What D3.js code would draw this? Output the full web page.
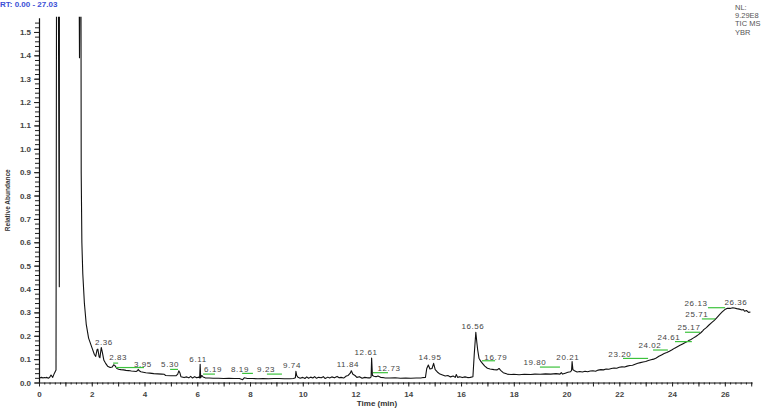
<!DOCTYPE html>
<html>
<head>
<meta charset="utf-8">
<script src="https://cdn.jsdelivr.net/npm/d3@7"></script>
<style>
  body { margin: 0; background: #fff; }
  text { font-family: "Liberation Sans", Arial, sans-serif; }
</style>
</head>
<body>
<div id="chart-area"></div>
<script>
// chromatogram: retention time (min) and relative abundance
const rt = [
  0.00, 0.05, 0.10, 0.15, 0.20, 0.25, 0.30, 0.35, 0.40, 0.455, 0.52, 0.58, 0.645,
  0.67, 0.72, 0.77, 0.775, 1.50, 1.535, 1.57, 1.585, 1.60, 1.625, 1.66, 1.72, 1.79, 1.88,
  2.01, 2.10, 2.15, 2.20, 2.23, 2.28, 2.31, 2.36, 2.40, 2.46, 2.52, 2.60, 2.70, 2.78,
  2.83, 2.88, 2.95, 3.02, 3.10, 3.20, 3.30, 3.40, 3.50, 3.60, 3.68, 3.73, 3.76, 3.80,
  3.86, 3.95, 4.05, 4.20, 4.35, 4.50, 4.65, 4.75, 4.80, 5.00, 5.20, 5.26, 5.30, 5.34,
  5.38, 5.50, 5.60, 5.68, 5.75, 5.82, 5.90, 5.98, 6.06, 6.09, 6.11, 6.13, 6.17, 6.22,
  6.30, 6.45, 6.60, 6.80, 7.00, 7.20, 7.40, 7.60, 7.72, 7.78, 7.90, 8.10, 8.30, 8.50,
  8.70, 8.90, 9.10, 9.30, 9.50, 9.65, 9.72, 9.74, 9.77, 9.82, 9.90, 10.00, 10.08, 10.15,
  10.22, 10.30, 10.38, 10.45, 10.52, 10.60, 10.70, 10.78, 10.85, 10.95, 11.02, 11.10,
  11.20, 11.30, 11.38, 11.45, 11.55, 11.65, 11.72, 11.80, 11.84, 11.90, 11.98, 12.05,
  12.15, 12.25, 12.35, 12.45, 12.55, 12.59, 12.61, 12.64, 12.70, 12.78, 12.85, 12.95,
  13.10, 13.30, 13.50, 13.70, 13.90, 14.10, 14.30, 14.50, 14.65, 14.70, 14.76, 14.82,
  14.90, 14.96, 15.02, 15.10, 15.20, 15.30, 15.40, 15.50, 15.60, 15.70, 15.78, 15.82,
  15.87, 15.95, 16.05, 16.15, 16.25, 16.35, 16.45, 16.50, 16.56, 16.60, 16.63, 16.68,
  16.75, 16.81, 16.90, 17.00, 17.10, 17.25, 17.37, 17.44, 17.50, 17.60, 17.75, 17.90,
  18.00, 18.20, 18.40, 18.64, 18.80, 19.00, 19.20, 19.40, 19.60, 19.75, 19.80, 19.85,
  19.95, 20.05, 20.15, 20.19, 20.21, 20.24, 20.30, 20.40, 20.50, 20.60, 20.70, 20.80,
  20.90, 21.00, 21.10, 21.20, 21.30, 21.40, 21.50, 21.60, 21.70, 21.80, 21.90, 22.00,
  22.10, 22.20, 22.30, 22.40, 22.50, 22.60, 22.70, 22.80, 22.90, 23.00, 23.10, 23.20,
  23.30, 23.40, 23.50, 23.60, 23.70, 23.80, 23.90, 24.00, 24.10, 24.20, 24.30, 24.40,
  24.50, 24.60, 24.65, 24.70, 24.80, 24.90, 25.00, 25.10, 25.17, 25.20, 25.30, 25.40,
  25.50, 25.60, 25.70, 25.80, 25.90, 26.00, 26.10, 26.20, 26.30, 26.36, 26.45, 26.55,
  26.65, 26.70, 26.75, 26.82, 26.90, 26.97
]
const abundance = [
  0.022, 0.020, 0.022, 0.019, 0.021, 0.020, 0.022, 0.018, 0.021, 0.032, 0.022, 0.039, 0.053,
  2.2, 2.2, 0.41, 2.2, 2.2, 1.39, 2.2, 2.2, 0.9, 0.6, 0.465, 0.34, 0.25, 0.19,
  0.148, 0.120, 0.112, 0.140, 0.143, 0.110, 0.106, 0.150, 0.130, 0.095, 0.083, 0.070, 0.064, 0.066,
  0.076, 0.072, 0.060, 0.057, 0.055, 0.054, 0.052, 0.051, 0.049, 0.048, 0.047, 0.050, 0.056, 0.050,
  0.046, 0.044, 0.042, 0.040, 0.038, 0.037, 0.036, 0.035, 0.030, 0.029, 0.029, 0.036, 0.050, 0.042,
  0.025, 0.021, 0.024, 0.020, 0.026, 0.019, 0.025, 0.020, 0.023, 0.020, 0.078, 0.020, 0.030, 0.024,
  0.020, 0.019, 0.018, 0.018, 0.017, 0.018, 0.017, 0.017, 0.012, 0.020, 0.017, 0.017, 0.016, 0.017,
  0.016, 0.017, 0.017, 0.016, 0.016, 0.017, 0.020, 0.048, 0.030, 0.022, 0.018, 0.022, 0.017, 0.024,
  0.018, 0.023, 0.019, 0.025, 0.018, 0.022, 0.020, 0.025, 0.017, 0.023, 0.019, 0.024,
  0.020, 0.026, 0.020, 0.022, 0.019, 0.028, 0.030, 0.040, 0.050, 0.035, 0.030, 0.022,
  0.025, 0.018, 0.022, 0.020, 0.020, 0.024, 0.105, 0.030, 0.027, 0.025, 0.028, 0.022,
  0.020, 0.019, 0.020, 0.018, 0.019, 0.018, 0.019, 0.020, 0.022, 0.060, 0.075, 0.058,
  0.060, 0.082, 0.055, 0.045, 0.036, 0.032, 0.028, 0.030, 0.024, 0.028, 0.022, 0.034,
  0.022, 0.025, 0.021, 0.024, 0.021, 0.022, 0.025, 0.120, 0.215, 0.170, 0.140, 0.104,
  0.090, 0.082, 0.070, 0.061, 0.058, 0.055, 0.054, 0.060, 0.052, 0.042, 0.036, 0.034,
  0.035, 0.033, 0.035, 0.034, 0.036, 0.035, 0.037, 0.036, 0.038, 0.036, 0.042, 0.036,
  0.040, 0.044, 0.046, 0.052, 0.090, 0.055, 0.050, 0.045, 0.047, 0.045, 0.048, 0.046,
  0.049, 0.050, 0.048, 0.053, 0.055, 0.054, 0.058, 0.057, 0.060, 0.062, 0.061, 0.065,
  0.067, 0.066, 0.070, 0.073, 0.074, 0.078, 0.082, 0.085, 0.088, 0.090, 0.094, 0.097,
  0.100, 0.105, 0.112, 0.118, 0.124, 0.128, 0.134, 0.140, 0.147, 0.153, 0.159, 0.165,
  0.171, 0.176, 0.181, 0.183, 0.190, 0.197, 0.205, 0.214, 0.222, 0.226, 0.235, 0.246,
  0.256, 0.266, 0.278, 0.290, 0.302, 0.312, 0.318, 0.317, 0.320, 0.319, 0.316, 0.314,
  0.310, 0.312, 0.305, 0.308, 0.300, 0.302
]

// peak labels: text, label centre (time, abundance)
const peakText = ["2.36", "2.83", "3.95", "5.30", "6.11", "6.19", "8.19", "9.23", "9.74",
  "11.84", "12.61", "12.73", "14.95", "16.56", "16.79", "19.80", "20.21", "23.20",
  "24.02", "24.61", "25.17", "25.71", "26.13", "26.36"]
const peakLabelT = [2.46, 3.00, 3.94, 4.97, 6.03, 6.60, 7.62, 8.61, 9.59,
  11.71, 12.40, 13.27, 14.82, 16.45, 17.32, 18.80, 20.05, 22.02,
  23.16, 23.88, 24.64, 24.94, 24.91, 26.42]
const peakLabelV = [0.173, 0.109, 0.079, 0.079, 0.101, 0.058, 0.058, 0.058, 0.075,
  0.079, 0.131, 0.062, 0.109, 0.242, 0.109, 0.088, 0.109, 0.122,
  0.160, 0.195, 0.237, 0.293, 0.340, 0.344]

// green leader lines: start time, end time, abundance
const leadFrom = [2.81, 2.92, 4.97, 6.22, 7.70, 8.64, 12.66, 16.79, 18.99, 22.14, 23.28, 24.11, 24.49, 25.13, 25.36]
const leadTo   = [3.00, 3.98, 5.27, 6.67, 8.11, 9.21, 13.23, 17.29, 19.75, 23.09, 23.84, 24.75, 25.06, 25.63, 26.01]
const leadV    = [0.083, 0.064, 0.056, 0.036, 0.039, 0.036, 0.042, 0.093, 0.066, 0.103, 0.139, 0.175, 0.215, 0.272, 0.320]

const yTickValues = d3.range(0, 16).map(i => i / 10)
const xTickValues = d3.range(0, 27, 2)

const svg = d3.select("#chart-area").append("svg")
  .attr("width", 784)
  .attr("height", 408)

// scales
const x = d3.scaleLinear().domain([0, 27.03]).range([39, 752])
const y = d3.scaleLinear().domain([0, 1.561]).range([382.5, 17.7])

// header texts
svg.append("text")
  .attr("x", 0).attr("y", 7)
  .attr("font-size", "8px").attr("font-weight", "bold")
  .attr("fill", "#3b4fd6")
  .text("RT: 0.00 - 27.03")

const nl = svg.append("text")
  .attr("font-size", "7.5px")
  .attr("fill", "#555")
;["NL:", "9.29E8", "TIC  MS", "YBR"].forEach((s, i) => {
  nl.append("tspan").attr("x", 735).attr("y", 10 + i * 8.2).text(s)
})

// axes
const yMinor = svg.append("g")
  .attr("transform", `translate(${x(0)},0)`)
  .call(d3.axisLeft(y).tickValues(d3.range(0, 78).map(i => i * 0.02)).tickSize(4).tickFormat(""))
yMinor.select(".domain").remove()

const yAxis = svg.append("g")
  .attr("transform", `translate(${x(0)},0)`)
  .call(d3.axisLeft(y).tickValues(yTickValues).tickSize(5).tickPadding(3).tickSizeOuter(0)
    .tickFormat(d3.format(".1f")))

const xMinor = svg.append("g")
  .attr("transform", `translate(0,${y(0)})`)
  .call(d3.axisBottom(x).tickValues(d3.range(0, 136).map(i => i * 0.2)).tickSize(2).tickFormat(""))
xMinor.select(".domain").remove()

const xAxis = svg.append("g")
  .attr("transform", `translate(0,${y(0)})`)
  .call(d3.axisBottom(x).tickValues(d3.range(0, 28)).tickSize(4).tickPadding(5).tickSizeOuter(0)
    .tickFormat(d => d % 2 === 0 ? d : ""))

svg.selectAll(".domain").attr("stroke", "#111").attr("stroke-width", 1.2)
svg.selectAll(".tick line").attr("stroke", "#222")
svg.selectAll(".tick text")
  .attr("font-size", "8px").attr("font-weight", "bold").attr("fill", "#444")
  .style("font-family", "'Liberation Sans', Arial, sans-serif")

// axis titles
svg.append("text")
  .attr("transform", `translate(10,${y(0.78)}) rotate(-90)`)
  .attr("text-anchor", "middle")
  .attr("font-size", "6.5px").attr("font-weight", "bold").attr("fill", "#333")
  .text("Relative Abundance")

svg.append("text")
  .attr("x", 377).attr("y", 406)
  .attr("text-anchor", "middle")
  .attr("font-size", "8px").attr("font-weight", "bold").attr("fill", "#333")
  .text("Time (min)")

// trace, clipped to plot area
svg.append("clipPath").attr("id", "plot-clip")
  .append("rect")
  .attr("x", x(0)).attr("y", y.range()[1] - 1)
  .attr("width", x(27.03) - x(0)).attr("height", y(0) - y.range()[1] + 1)

const line = d3.line()
  .x((d, i) => x(rt[i]))
  .y(d => y(d))

svg.append("path")
  .attr("clip-path", "url(#plot-clip)")
  .attr("fill", "none")
  .attr("stroke", "#111")
  .attr("stroke-width", 1.1)
  .attr("stroke-linejoin", "round")
  .attr("d", line(abundance))

// green leaders
svg.append("g").selectAll("line")
  .data(leadV)
  .join("line")
  .attr("x1", (d, i) => x(leadFrom[i]))
  .attr("x2", (d, i) => x(leadTo[i]))
  .attr("y1", d => y(d))
  .attr("y2", d => y(d))
  .attr("stroke", "#3cc23c")
  .attr("stroke-width", 1.2)

// peak labels
svg.append("g").selectAll("text")
  .data(peakText)
  .join("text")
  .attr("x", (d, i) => x(peakLabelT[i]))
  .attr("y", (d, i) => y(peakLabelV[i]))
  .attr("dy", "0.35em")
  .attr("text-anchor", "middle")
  .attr("font-size", "8px")
  .attr("letter-spacing", "0.6px")
  .attr("fill", "#444")
  .text(d => d)
</script>
</body>
</html>
